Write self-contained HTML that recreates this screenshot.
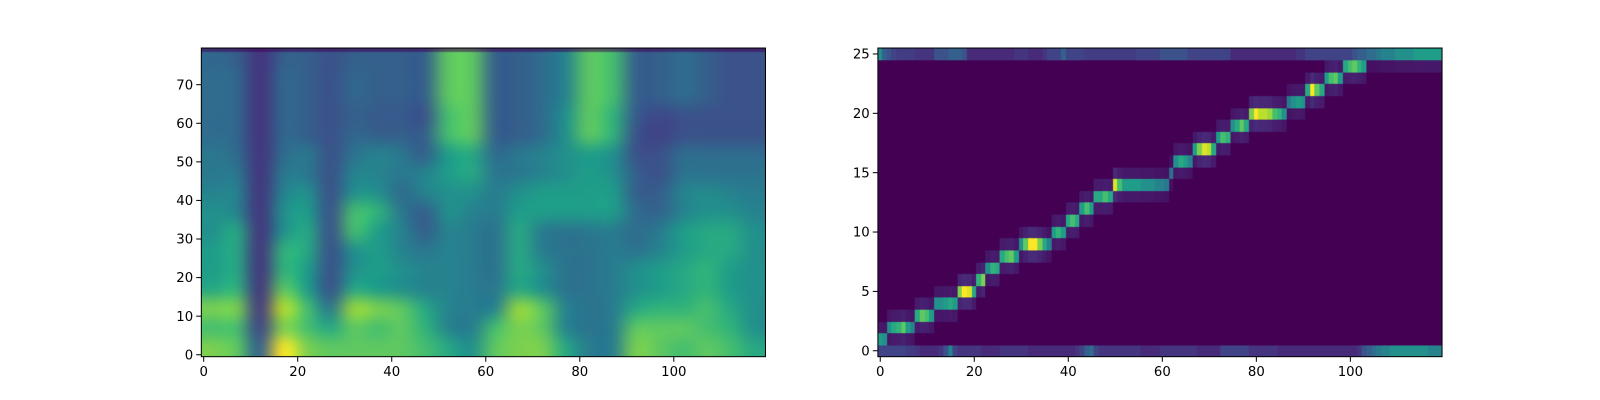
<!DOCTYPE html>
<html><head><meta charset="utf-8">
<style>
html,body{margin:0;padding:0;background:#fff;overflow:hidden;}
#root{position:relative;width:1600px;height:400px;overflow:hidden;font-family:"Liberation Sans","DejaVu Sans",sans-serif;transform:scale(1.022);transform-origin:0 0;}
canvas{position:absolute;display:block;}
svg{position:absolute;left:0;top:0;display:block;}
text{font-family:"DejaVu Sans","Liberation Sans",sans-serif;font-size:13px;fill:#000;}
</style></head>
<body>
<div id="root">
<canvas id="specCanvas" width="552" height="302" style="left:197px;top:47px"></canvas>
<canvas id="alignCanvas" width="552" height="302" style="left:859px;top:47px"></canvas>
<svg id="axes" width="1600" height="400"></svg>
</div>
<script>
// ---- Left chart data: mel spectrogram, 24 frame groups (5 frames each) x 16 bin groups (5 bins each, bottom->top)
const specFrameGroups = [0,5,10,15,20,25,30,35,40,45,50,55,60,65,70,75,80,85,90,95,100,105,110,115];
const specBinGroups = [0,5,10,15,20,25,30,35,40,45,50,55,60,65,70,75];
const specGrid = [
 [0.8,0.7,0.8,0.6,0.55,0.55,0.5,0.5,0.45,0.4,0.4,0.35,0.35,0.35,0.35,0.33],
 [0.75,0.7,0.8,0.65,0.6,0.6,0.6,0.45,0.45,0.4,0.35,0.33,0.33,0.33,0.33,0.3],
 [0.3,0.2,0.17,0.15,0.15,0.15,0.15,0.15,0.15,0.15,0.15,0.15,0.15,0.15,0.15,0.15],
 [1.0,0.8,0.9,0.75,0.65,0.65,0.5,0.5,0.45,0.4,0.35,0.33,0.33,0.33,0.33,0.3],
 [0.8,0.7,0.7,0.55,0.55,0.6,0.6,0.55,0.5,0.4,0.4,0.3,0.3,0.3,0.3,0.3],
 [0.75,0.6,0.4,0.25,0.25,0.25,0.25,0.25,0.25,0.25,0.25,0.25,0.25,0.25,0.25,0.25],
 [0.75,0.75,0.85,0.6,0.5,0.5,0.7,0.7,0.5,0.45,0.38,0.33,0.3,0.33,0.33,0.3],
 [0.75,0.7,0.8,0.55,0.55,0.55,0.55,0.65,0.5,0.45,0.45,0.3,0.28,0.3,0.3,0.3],
 [0.75,0.75,0.75,0.5,0.5,0.45,0.45,0.4,0.35,0.4,0.4,0.3,0.28,0.3,0.3,0.3],
 [0.7,0.65,0.6,0.45,0.45,0.4,0.3,0.3,0.45,0.45,0.3,0.3,0.25,0.3,0.3,0.3],
 [0.6,0.45,0.45,0.45,0.45,0.45,0.45,0.5,0.5,0.55,0.55,0.7,0.7,0.75,0.75,0.75],
 [0.5,0.42,0.42,0.42,0.42,0.42,0.42,0.45,0.5,0.6,0.6,0.75,0.75,0.75,0.75,0.75],
 [0.75,0.7,0.45,0.4,0.38,0.38,0.38,0.42,0.42,0.4,0.35,0.3,0.3,0.3,0.3,0.3],
 [0.8,0.8,0.85,0.6,0.6,0.6,0.6,0.55,0.5,0.4,0.4,0.3,0.3,0.3,0.3,0.3],
 [0.8,0.75,0.75,0.5,0.5,0.42,0.42,0.55,0.55,0.45,0.45,0.35,0.35,0.35,0.35,0.35],
 [0.6,0.45,0.45,0.38,0.38,0.38,0.38,0.55,0.55,0.5,0.5,0.5,0.5,0.45,0.45,0.45],
 [0.42,0.38,0.38,0.38,0.38,0.38,0.4,0.55,0.55,0.55,0.55,0.75,0.75,0.75,0.75,0.75],
 [0.42,0.42,0.42,0.42,0.42,0.42,0.42,0.55,0.55,0.5,0.5,0.65,0.65,0.7,0.7,0.7],
 [0.8,0.75,0.6,0.5,0.5,0.38,0.35,0.35,0.3,0.3,0.25,0.25,0.28,0.3,0.3,0.3],
 [0.75,0.75,0.65,0.55,0.55,0.45,0.42,0.32,0.3,0.25,0.25,0.2,0.22,0.3,0.3,0.3],
 [0.7,0.75,0.65,0.6,0.6,0.55,0.55,0.45,0.45,0.38,0.35,0.25,0.25,0.35,0.35,0.35],
 [0.75,0.7,0.7,0.65,0.65,0.6,0.6,0.5,0.48,0.38,0.35,0.25,0.25,0.3,0.3,0.3],
 [0.7,0.65,0.6,0.55,0.55,0.6,0.6,0.5,0.45,0.38,0.35,0.25,0.25,0.25,0.25,0.25],
 [0.6,0.5,0.5,0.5,0.5,0.5,0.5,0.45,0.42,0.38,0.35,0.25,0.25,0.25,0.25,0.25]
];
const specXTicks = [0,20,40,60,80,100];
const specYTicks = [0,10,20,30,40,50,60,70];

// ---- Right chart data: attention alignment, per decoder frame (120)
const alignPeakRow = [
 1,1,2,2,2,2,2,2,3,3,3,3,4,4,4,4,4,5,5,5,5,6,6,7,7,7,8,8,8,8,
 9,9,9,9,9,9,9,10,10,10,11,11,11,12,12,12,13,13,13,13,14,14,14,14,14,14,14,14,14,14,
 14,14,15,16,16,16,16,17,17,17,17,17,18,18,18,19,19,19,19,20,20,20,20,20,20,20,20,21,21,21,
 21,22,22,22,22,23,23,23,23,24,24,24,24,24,25,25,25,25,25,25,25,25,25,25,25,25,25,25,25,25];
const alignPeakVal = [
 0.55,0.5,0.5,0.6,0.65,0.75,0.55,0.45,0.6,0.75,0.7,0.55,0.5,0.5,0.55,0.6,0.55,0.8,1.0,0.95,0.6,0.65,0.8,0.5,0.65,0.6,0.6,0.7,0.75,0.55,
 0.5,0.75,1.0,1.0,0.8,0.6,0.45,0.55,0.65,0.55,0.6,0.7,0.6,0.55,0.7,0.55,0.6,0.6,0.7,0.6,0.95,0.7,0.55,0.55,0.55,0.55,0.5,0.5,0.5,0.45,
 0.45,0.4,0.35,0.5,0.6,0.55,0.45,0.55,0.8,0.95,0.9,0.6,0.55,0.7,0.65,0.5,0.6,0.75,0.6,0.8,1.0,0.9,0.9,0.85,0.7,0.65,0.5,0.4,0.5,0.55,
 0.5,0.6,1.0,0.75,0.6,0.55,0.7,0.75,0.55,0.6,0.7,0.75,0.65,0.55,0.35,0.35,0.4,0.45,0.45,0.45,0.5,0.5,0.5,0.5,0.55,0.55,0.55,0.55,0.55,0.55];
const alignRow0 = [
 0.2,0.2,0.2,0.2,0.2,0.2,0.18,0.18,0.15,0.12,0.12,0.12,0.12,0.15,0.25,0.45,0.2,0.15,0.15,0.15,0.15,0.15,0.12,0.12,0.12,0.12,0.15,0.15,0.15,0.15,
 0.15,0.15,0.12,0.12,0.12,0.12,0.12,0.12,0.12,0.12,0.12,0.12,0.15,0.2,0.3,0.35,0.2,0.15,0.15,0.15,0.15,0.15,0.15,0.15,0.15,0.15,0.12,0.12,0.12,0.12,
 0.15,0.15,0.15,0.15,0.15,0.15,0.15,0.15,0.12,0.12,0.12,0.12,0.12,0.2,0.2,0.2,0.2,0.2,0.2,0.15,0.15,0.15,0.15,0.15,0.15,0.12,0.12,0.12,0.12,0.12,
 0.12,0.12,0.12,0.12,0.12,0.12,0.12,0.12,0.12,0.12,0.12,0.12,0.15,0.25,0.3,0.35,0.4,0.45,0.45,0.5,0.5,0.5,0.5,0.5,0.5,0.5,0.5,0.45,0.45,0.45];
const alignRow25 = [
 0.5,0.3,0.25,0.2,0.18,0.18,0.18,0.18,0.15,0.15,0.15,0.15,0.25,0.25,0.25,0.3,0.3,0.3,0.25,0.12,0.12,0.12,0.12,0.12,0.12,0.12,0.12,0.12,0.12,0.15,
 0.15,0.15,0.12,0.12,0.12,0.15,0.2,0.2,0.2,0.3,0.2,0.2,0.2,0.2,0.18,0.18,0.18,0.18,0.18,0.18,0.18,0.18,0.18,0.18,0.18,0.2,0.2,0.2,0.2,0.2,
 0.25,0.25,0.25,0.25,0.25,0.25,0.2,0.2,0.2,0.2,0.2,0.2,0.2,0.2,0.2,0.12,0.12,0.12,0.12,0.12,0.12,0.12,0.12,0.12,0.12,0.12,0.12,0.12,0.12,0.15,
 0.15,0.2,0.2,0.2,0.2,0.2,0.2,0.2,0.2,0.2,0.2,0.25,0.3,0.3,0.3,0.35,0.35,0.4,0.4,0.45,0.45,0.45,0.5,0.5,0.5,0.55,0.55,0.55,0.55,0.55];
const alignXTicks = [0,20,40,60,80,100];
const alignYTicks = [0,5,10,15,20,25];

// ---- viridis
const VIR = [[68,1,84],[72,40,120],[62,74,137],[49,104,142],[38,130,142],[31,158,137],[53,183,121],[109,205,89],[180,222,44],[253,231,37]];
function viridis(t){t=Math.max(0,Math.min(1,t));const p=t*(VIR.length-1);const i=Math.min(VIR.length-2,Math.floor(p));const f=p-i;
 const a=VIR[i],b=VIR[i+1];return [a[0]+(b[0]-a[0])*f,a[1]+(b[1]-a[1])*f,a[2]+(b[2]-a[2])*f];}

// ---- axes
const L={x0:197,y0:47,w:552,h:302};
const R={x0:859,y0:47,w:552,h:302};
const nFrames=120;
function xScale(ax,f){return ax.x0+(f+0.5)/nFrames*ax.w;}
function yScale(ax,v,n){return ax.y0+ax.h-(v+0.5)/n*ax.h;}

(function(){
 const cols=specGrid.length, rows=specBinGroups.length;
 const small=document.createElement('canvas');small.width=cols;small.height=rows;
 const sc=small.getContext('2d');const img=sc.createImageData(cols,rows);
 for(let c=0;c<cols;c++)for(let r=0;r<rows;r++){const col=viridis(specGrid[c][r]);const k=((rows-1-r)*cols+c)*4;
  img.data[k]=col[0];img.data[k+1]=col[1];img.data[k+2]=col[2];img.data[k+3]=255;}
 sc.putImageData(img,0,0);
 const ctx=document.getElementById('specCanvas').getContext('2d');
 ctx.imageSmoothingEnabled=true;ctx.imageSmoothingQuality='high';
 ctx.drawImage(small,0,0,L.w,L.h);
 ctx.fillStyle='rgba(68,1,84,0.55)';ctx.fillRect(0,0,L.w,L.h/80);
})();

(function(){
 const nRows=26;const ctx=document.getElementById('alignCanvas').getContext('2d');
 const vals=[];for(let f=0;f<nFrames;f++){vals.push(new Array(nRows).fill(0.0));}
 for(let f=0;f<nFrames;f++){
  const r=alignPeakRow[f],v=alignPeakVal[f];
  vals[f][r]=Math.max(vals[f][r],v);
  if(r-1>=1) vals[f][r-1]=Math.max(vals[f][r-1],v*0.12);
  if(r+1<=24) vals[f][r+1]=Math.max(vals[f][r+1],v*0.12);
  vals[f][0]=Math.max(vals[f][0],alignRow0[f]);
  vals[f][25]=Math.max(vals[f][25],alignRow25[f]);
 }
 for(let f=0;f<nFrames;f++)for(let r=0;r<nRows;r++){
  const c=viridis(vals[f][r]);ctx.fillStyle='rgb('+c.map(Math.round).join(',')+')';
  const x=xScale(R,f-0.5)-R.x0, x2=xScale(R,f+0.5)-R.x0;
  const y=yScale(R,r+0.5,nRows)-R.y0, y2=yScale(R,r-0.5,nRows)-R.y0;
  ctx.fillRect(Math.floor(x),Math.floor(y),Math.ceil(x2)-Math.floor(x),Math.ceil(y2)-Math.floor(y));
 }
})();

const svg=document.getElementById('axes');const NS='http://www.w3.org/2000/svg';
function el(tag,attrs){const e=document.createElementNS(NS,tag);for(const k in attrs)e.setAttribute(k,attrs[k]);svg.appendChild(e);return e;}
function drawAxes(ax,xt,yt,nY,prefix){
 const fr=el('rect',{x:ax.x0,y:ax.y0,width:ax.w,height:ax.h,fill:'none',stroke:'#000','stroke-width':1});
 
 
 xt.forEach(t=>{const x=xScale(ax,t);
  const l=el('line',{x1:x,y1:ax.y0+ax.h,x2:x,y2:ax.y0+ax.h+5,stroke:'#000','stroke-width':1});
  
  
  const tx=el('text',{x:x,y:ax.y0+ax.h+19,'text-anchor':'middle'});tx.textContent=t;
  
  
 });
 yt.forEach(t=>{const y=yScale(ax,t,nY);
  const l=el('line',{x1:ax.x0-5,y1:y,x2:ax.x0,y2:y,stroke:'#000','stroke-width':1});
  
  
  const tx=el('text',{x:ax.x0-8,y:y+4.5,'text-anchor':'end'});tx.textContent=t;
  
  
 });
}
drawAxes(L,specXTicks,specYTicks,80,'spectrogram');
drawAxes(R,alignXTicks,alignYTicks,26,'alignment');
</script>
</body></html>
